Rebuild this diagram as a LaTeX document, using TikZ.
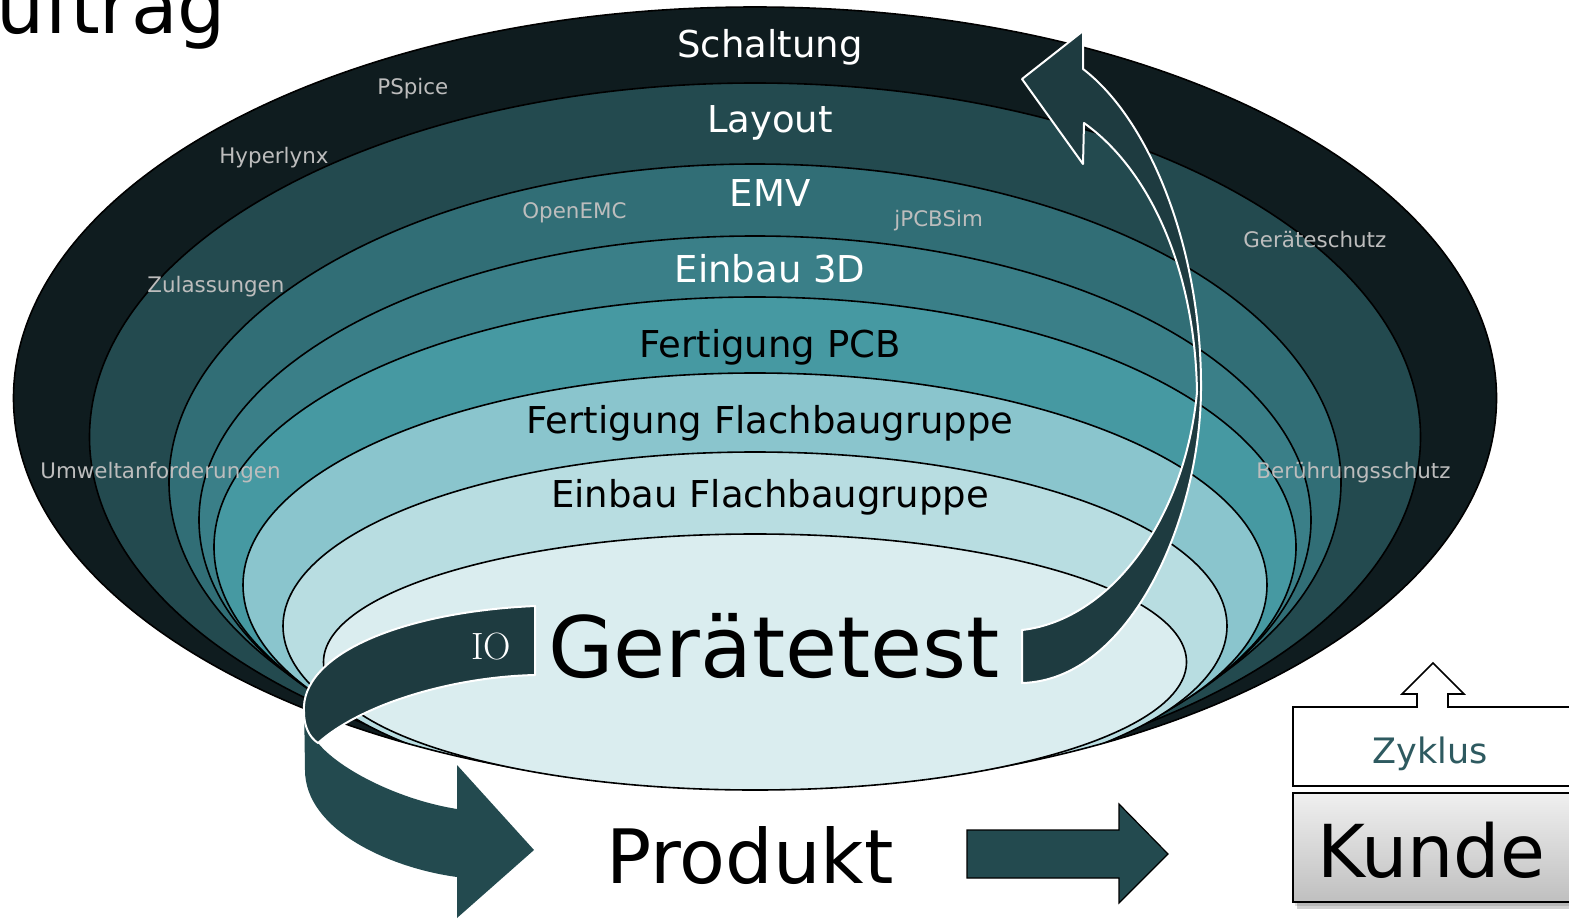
\documentclass[tikz,border=0pt]{standalone}
\usepackage{fontspec}
\setmainfont{DejaVu Sans}
\newfontfamily\lmrfont{Latin Modern Roman}
\definecolor{cA}{HTML}{0F1C1F}
\definecolor{cB}{HTML}{234A4F}
\definecolor{cC}{HTML}{316E76}
\definecolor{cD}{HTML}{3A7F88}
\definecolor{cE}{HTML}{4699A2}
\definecolor{cF}{HTML}{8AC5CD}
\definecolor{cG}{HTML}{B8DDE1}
\definecolor{cH}{HTML}{DAEDEF}
\definecolor{rib}{HTML}{1E3B40}
\definecolor{ribb}{HTML}{234A4F}
\definecolor{toolgray}{HTML}{BDBDBD}
\definecolor{zyk}{HTML}{2E5A60}
\tikzset{
  ring/.style={draw=black, line width=0.8pt},
  lbl/.style={font=\fontsize{18.5}{20}\selectfont, anchor=base, inner sep=0pt},
  tool/.style={text=toolgray, font=\fontsize{10.7}{12}\selectfont, anchor=base west, inner sep=0pt},
  ribbon/.style={fill=rib, draw=white, line width=1pt, line join=round},
}
\begin{document}
\begin{tikzpicture}[x=0.5pt,y=-0.5pt]
\useasboundingbox (0,0) rectangle (1569,921);
\fill[white] (0,0) rectangle (1569,921);
\clip (0,0) rectangle (1569,921);
% rings
\fill[cA] (755,398) ellipse [x radius=741.5, y radius=391];
\begin{scope}
\clip (755,398) ellipse [x radius=741.5, y radius=391];
\filldraw[ring, fill=cB] (755,437) ellipse [x radius=665.5, y radius=354];
\filldraw[ring, fill=cC] (755,482) ellipse [x radius=586, y radius=318];
\filldraw[ring, fill=cD] (755,520) ellipse [x radius=556, y radius=284];
\filldraw[ring, fill=cE] (755,547) ellipse [x radius=541, y radius=250];
\filldraw[ring, fill=cF] (755,585) ellipse [x radius=512, y radius=212];
\filldraw[ring, fill=cG] (755,626) ellipse [x radius=472, y radius=174];
\end{scope}
\draw[ring] (755,398) ellipse [x radius=741.5, y radius=391];
\filldraw[ring, fill=cH] (755,662) ellipse [x radius=431.5, y radius=128];
% ring labels
\node[lbl, text=white] (schaltung) at (770,57) {Schaltung};
\node[lbl, text=white] (layout) at (770,132) {Layout};
\node[lbl, text=white] (emv) at (770,206) {EMV};
\node[lbl, text=white] (einbau3d) at (770,282) {Einbau 3D};
\node[lbl, text=black] (fpcb) at (770,357) {Fertigung PCB};
\node[lbl, text=black] (ffbg) at (770,433) {Fertigung Flachbaugruppe};
\node[lbl, text=black] (efbg) at (770,507) {Einbau Flachbaugruppe};
% tool labels
\node[tool] (pspice) at (377,94) {PSpice};
\node[tool] (hyperlynx) at (219,163) {Hyperlynx};
\node[tool] (zulassungen) at (147,292) {Zulassungen};
\node[tool] (openemc) at (522,218) {OpenEMC};
\node[tool] (jpcbsim) at (894,226) {jPCBSim};
\node[tool] (geraeteschutz) at (1243,247) {Geräteschutz};
\node[tool] (umwelt) at (40,478) {Umweltanforderungen};
\node[tool] (beruehrung) at (1256,478) {Berührungsschutz};
% upward ribbon arrow
\filldraw[ribbon] (1022,630) -- (1022,683)
  .. controls (1130,680) and (1200,520) .. (1201,390)
  .. controls (1202,250) and (1150,120) .. (1083,69)
  -- (1083,31) -- (1022,79) -- (1083,164) -- (1084,123)
  .. controls (1150,170) and (1195,270) .. (1197,392)
  .. controls (1185,520) and (1110,620) .. (1022,630)
  -- cycle;
% lower band to Produkt
\fill[ribb] (304,700) -- (305,770) .. controls (305,830) and (390,868) .. (457,877)
  -- (457,918) -- (534,850) -- (457,765) -- (457,809)
  .. controls (400,800) and (340,770) .. (318,743) -- cycle;
% IO band
\filldraw[ribbon] (535,606) -- (535,675)
  .. controls (450,677) and (360,705) .. (318,743)
  .. controls (309,737) and (304,726) .. (304,712)
  .. controls (300,655) and (400,612) .. (535,606) -- cycle;
\node[anchor=base, inner sep=0pt, text=white, font=\lmrfont\fontsize{19}{20}\selectfont] (io) at (491,659) {IO};
\node[anchor=base, inner sep=0pt, font=\fontsize{42.3}{44}\selectfont] (test) at (774,677) {Gerätetest};
% Produkt and arrow
\node[anchor=base, inner sep=0pt, font=\fontsize{37.5}{40}\selectfont] (produkt) at (750,883) {Produkt};
\filldraw[fill=ribb, draw=black, line width=0.6pt] (967,830) -- (1119,830) -- (1119,804) -- (1168,854) -- (1119,903) -- (1119,878) -- (967,878) -- cycle;
% Zyklus box
\filldraw[fill=white, draw=black, line width=0.8pt] (1580,786) -- (1293,786) -- (1293,707) -- (1417,707) -- (1417,694) -- (1402,694) -- (1433,663) -- (1464,694) -- (1448,694) -- (1448,707) -- (1580,707);
\node[anchor=base, inner sep=0pt, text=zyk, font=\fontsize{17.5}{19}\selectfont] (zyklus) at (1430,763) {Zyklus};
% Kunde box
\fill[black, opacity=0.18] (1297,800) rectangle (1580,909);
\fill[black, opacity=0.12] (1295,798) rectangle (1580,906);
\shade[top color=gray!12, bottom color=gray!50] (1293,793) rectangle (1580,902);
\draw[black, line width=1pt] (1580,793) -- (1293,793) -- (1293,902) -- (1580,902);
\node[anchor=base, inner sep=0pt, font=\fontsize{36.5}{38}\selectfont] (kunde) at (1431,877) {Kunde};
% Auftrag (cut off at the picture's edge)
\node[anchor=base west, inner sep=0pt, font=\fontsize{38}{40}\selectfont] (auftrag) at (-56,33) {Auftrag};
\end{tikzpicture}
\end{document}
